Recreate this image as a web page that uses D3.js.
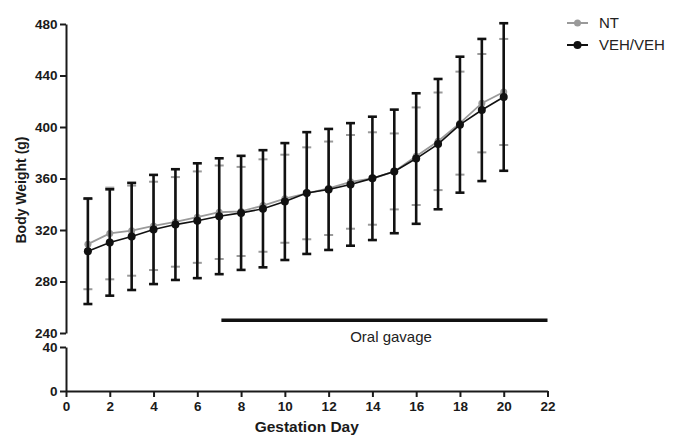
<!DOCTYPE html>
<html>
<head>
<meta charset="utf-8">
<script src="https://cdn.jsdelivr.net/npm/d3@7"></script>
<style>
  html, body { margin: 0; padding: 0; background: #fff; }
  svg { display: block; }
  text { font-family: "Liberation Sans", Arial, sans-serif; }
</style>
</head>
<body>
<svg id="chart" width="681" height="437"></svg>
<script>
// ---------- data ----------
const days = [1,2,3,4,5,6,7,8,9,10,11,12,13,14,15,16,17,18,19,20];
const vehMean = [303.5,310.3,315,320.4,324.2,327.2,330.7,333.3,336.5,342.1,348.7,351.5,355.4,360.1,365.5,375.5,386.7,401.8,413.2,423.3];
const vehErr  = [41,41.3,41.6,42.4,43,44.6,45,44.3,45.5,45.4,47.3,47,47.6,47.9,48,50.7,50.6,52.8,55.2,57.3];
const ntMean  = [309,317.3,319.5,323.2,326.3,330,333.8,334.4,339,344.3,348.5,352.4,357.4,360,365.5,377.3,388.9,403,418.5,427.2];
const ntErr   = [35,35.6,35,34.3,34.8,35.5,36.3,34.6,35.9,34.2,35.7,36.3,36.4,35.9,29.5,37.9,37.9,40,38.2,41.2];
const xTicks = [0,2,4,6,8,10,12,14,16,18,20,22];
const yTicksUpper = [240,280,320,360,400,440,480];
const yTicksLower = [0,40];
const seriesNames = ["NT","VEH/VEH"];
const gavage = {start: 7.1, end: 22, level: 250, label: "Oral gavage", labelDay: 14.85};

// ---------- scales ----------
const svg = d3.select("#chart");
const x = d3.scaleLinear().domain([0,22]).range([66,547.5]);
const yU = d3.scaleLinear().domain([240,480]).range([333,24]);
const yL = d3.scaleLinear().domain([0,40]).range([391,347]);

// ---------- axes ----------
function styleAxis(g){
  g.select(".domain").attr("stroke","#1a1a1a").attr("stroke-width",2);
  g.selectAll(".tick line").attr("stroke","#1a1a1a").attr("stroke-width",2);
  g.selectAll(".tick text").attr("fill","#1a1a1a").attr("font-weight","bold").attr("font-size","13.5px");
}
svg.append("g").attr("transform","translate(66,0)")
  .call(d3.axisLeft(yU).tickValues(yTicksUpper).tickSize(6).tickSizeOuter(0).tickPadding(2.5))
  .call(styleAxis);
svg.append("g").attr("transform","translate(66,0)")
  .call(d3.axisLeft(yL).tickValues(yTicksLower).tickSize(6).tickSizeOuter(0).tickPadding(2.5))
  .call(styleAxis);
svg.append("g").attr("transform","translate(0,391)")
  .call(d3.axisBottom(x).tickValues(xTicks).tickSize(6).tickSizeOuter(0).tickPadding(4))
  .call(styleAxis);

// axis titles
svg.append("text").attr("x",x(11)).attr("y",432).attr("text-anchor","middle")
  .attr("font-weight","bold").attr("font-size","15.5px").attr("fill","#1a1a1a").text("Gestation Day");
svg.append("text").attr("transform","translate(26,190) rotate(-90)").attr("text-anchor","middle")
  .attr("font-weight","bold").attr("font-size","14px").attr("fill","#1a1a1a").text("Body Weight (g)");

// ---------- series ----------
function drawSeries(mean, err, color, barW, lineW, r){
  const g = svg.append("g");
  const data = days.map((d,i)=>({d, m:mean[i], e:err[i]}));
  const eb = g.selectAll(".eb").data(data).enter().append("g");
  eb.append("line").attr("x1",d=>x(d.d)).attr("x2",d=>x(d.d))
    .attr("y1",d=>yU(d.m+d.e)).attr("y2",d=>yU(d.m-d.e))
    .attr("stroke",color).attr("stroke-width",barW);
  [1,-1].forEach(s=>{
    eb.append("line").attr("x1",d=>x(d.d)-4.5).attr("x2",d=>x(d.d)+4.5)
      .attr("y1",d=>yU(d.m+s*d.e)).attr("y2",d=>yU(d.m+s*d.e))
      .attr("stroke",color).attr("stroke-width",barW);
  });
  g.append("path").datum(data)
    .attr("d",d3.line().x(d=>x(d.d)).y(d=>yU(d.m)))
    .attr("fill","none").attr("stroke",color).attr("stroke-width",lineW);
  g.selectAll("circle").data(data).enter().append("circle")
    .attr("cx",d=>x(d.d)).attr("cy",d=>yU(d.m)).attr("r",r).attr("fill",color);
}
drawSeries(ntMean, ntErr, "#9a9a9a", 2, 1.8, 3.5);
drawSeries(vehMean, vehErr, "#111", 2.6, 1.6, 4);

// ---------- oral gavage ----------
svg.append("line").attr("x1",x(gavage.start)).attr("x2",x(gavage.end))
  .attr("y1",yU(gavage.level)).attr("y2",yU(gavage.level))
  .attr("stroke","#111").attr("stroke-width",3.5);
svg.append("text").attr("x",x(gavage.labelDay)).attr("y",yU(gavage.level)+22)
  .attr("text-anchor","middle").attr("font-size","15px").attr("fill","#222").text(gavage.label);

// ---------- legend ----------
const legColors = ["#9a9a9a","#111"];
seriesNames.forEach((n,i)=>{
  const yy = 23 + i*22;
  svg.append("line").attr("x1",567).attr("x2",588).attr("y1",yy).attr("y2",yy)
    .attr("stroke",legColors[i]).attr("stroke-width",2);
  svg.append("circle").attr("cx",577.5).attr("cy",yy).attr("r",i?4:3.5).attr("fill",legColors[i]);
  svg.append("text").attr("x",599).attr("y",yy+5).attr("font-size","15px").attr("fill","#222").text(n);
});
</script>
</body>
</html>
